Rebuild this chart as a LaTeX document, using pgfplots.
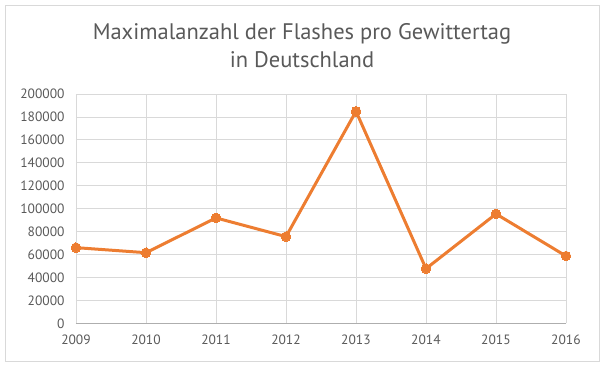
\documentclass[border=0pt]{standalone}
\usepackage{pgfplots}
\pgfplotsset{compat=1.18}
\usepackage{fontspec}
\setmainfont{PT Sans}
\definecolor{txt}{HTML}{595959}
\definecolor{gridc}{HTML}{D9D9D9}
\definecolor{line}{HTML}{ED7D31}
\begin{document}
\begin{tikzpicture}[x=1pt,y=1pt]
\path (0,0) rectangle (605,366);
\draw[gridc, line width=0.8pt] (5,5) rectangle (599,361);
\node[txt, align=center, font=\fontsize{22.5}{28}\selectfont] at (302,320) {Maximalanzahl der Flashes pro Gewittertag\\in Deutschland};
\begin{axis}[
  at={(76pt,42.5pt)}, anchor=south west,
  scale only axis, width=490pt, height=229.5pt,
  xmin=2009, xmax=2016, ymin=0, ymax=200000,
  scaled y ticks=false,
  xtick={2009,...,2016}, ytick={0,20000,...,200000},
  xticklabels={2009,2010,2011,2012,2013,2014,2015,2016},
  yticklabels={0,20000,40000,60000,80000,100000,120000,140000,160000,180000,200000},
  xticklabel style={font=\fontsize{13.5}{15}\selectfont, text=txt, yshift=-8pt},
  yticklabel style={font=\fontsize{13.5}{15}\selectfont, text=txt, xshift=-8pt},
  xmajorgrids, ymajorgrids,
  grid style={gridc, line width=0.8pt},
  axis x line*=bottom,
  axis y line*=left,
  x axis line style={draw=gridc!80!black, line width=1pt, -},
  y axis line style={draw=gridc, line width=0.8pt, -},
  tick style={draw=none},
  clip=false,
]
\addplot[line, line width=3pt, mark=*, mark size=4.8pt, mark options={fill=line, draw=line, line width=0pt}] coordinates {
(2009,66100) (2010,61700) (2011,92000) (2012,75700) (2013,184900) (2014,47800) (2015,95500) (2016,58800)
};
\end{axis}
\end{tikzpicture}
\end{document}
